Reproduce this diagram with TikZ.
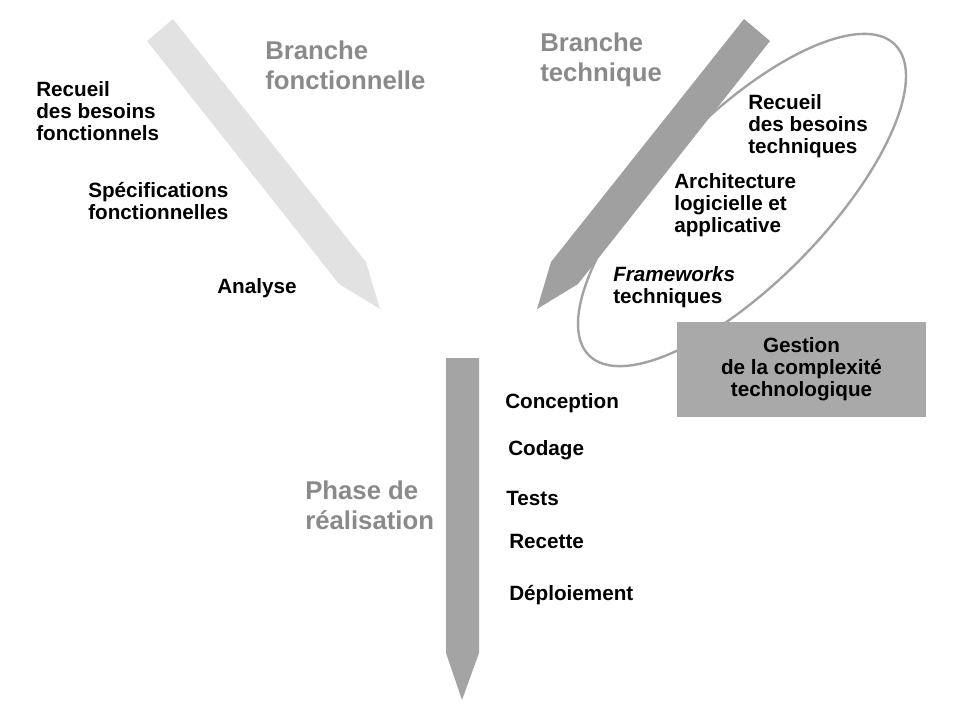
\documentclass[tikz,border=0pt]{standalone}
\usepackage{fontspec}
\setmainfont{Liberation Sans}
\definecolor{lightpencil}{HTML}{E2E2E2}
\definecolor{darkpencil}{HTML}{A0A0A0}
\definecolor{phasepencil}{HTML}{A4A4A4}
\definecolor{boxgray}{HTML}{A9A9A9}
\definecolor{headgray}{HTML}{8A8A8A}
\definecolor{ringgray}{HTML}{A2A2A2}
\tikzset{
  task/.style={font=\bfseries\fontsize{14.7}{15.6}\selectfont,align=left,inner sep=0pt,anchor=base west},
  branch/.style={font=\bfseries\fontsize{18.3}{21}\selectfont,text=headgray,align=left,inner sep=0pt,anchor=base west},
  complexbox/.style={fill=boxgray,minimum width=6.225cm,minimum height=2.375cm,align=center,
    font=\bfseries\fontsize{14.7}{15.6}\selectfont}
}
\begin{document}
\begin{tikzpicture}[x=0.025cm,y=-0.025cm]
    %% NOTE:
    %% frame of the picture
    \useasboundingbox (0,0) rectangle (965,713);
    %% ring round the technical tasks
    \draw[ringgray,line width=1.7pt,rotate around={45.5:(742,200)}] (742,200) ellipse [x radius=5.45cm,y radius=2.08cm];
    %% functional branch
    \fill[lightpencil] (147,41) -- (173,19) -- (366,262) -- (380,309) -- (339,284) -- cycle;
    %% technical branch
    \fill[darkpencil] (744,19) -- (770,41) -- (578,284) -- (537,309) -- (551,262) -- cycle;
    %% realisation phase
    \fill[phasepencil] (446,358) -- (479,358) -- (479,653) -- (462,700) -- (446,653) -- cycle;
    %% labels of the three branches (base = last line)
    \node[branch] (fonct) at (265,89) {Branche\\fonctionnelle};
    \node[branch] (techn) at (540,81) {Branche\\technique};
    \node[branch] (phase) at (305,529) {Phase de\\réalisation};
    %% functional tasks
    \node[task] (besoinsF) at (36,140) {Recueil\\des besoins\\fonctionnels};
    \node[task] (specF) at (88,219) {Spécifications\\fonctionnelles};
    \node[task] (analyse) at (217,293) {Analyse};
    %% technical tasks
    \node[task] (besoinsT) at (748,153) {Recueil\\des besoins\\techniques};
    \node[task] (archi) at (674,232) {Architecture\\logicielle et\\applicative};
    \node[task] (frameworks) at (613,303) {\textit{Frameworks}\\techniques};
    \node[complexbox] (gestion) at (801.5,369.5) {Gestion\\de la complexité\\technologique};
    %% realisation tasks
    \node[task] (conception) at (505,408) {Conception};
    \node[task] (codage) at (508,455) {Codage};
    \node[task] (tests) at (506,505) {Tests};
    \node[task] (recette) at (509,548) {Recette};
    \node[task] (deploiement) at (509,600) {Déploiement};
\end{tikzpicture}
\end{document}
